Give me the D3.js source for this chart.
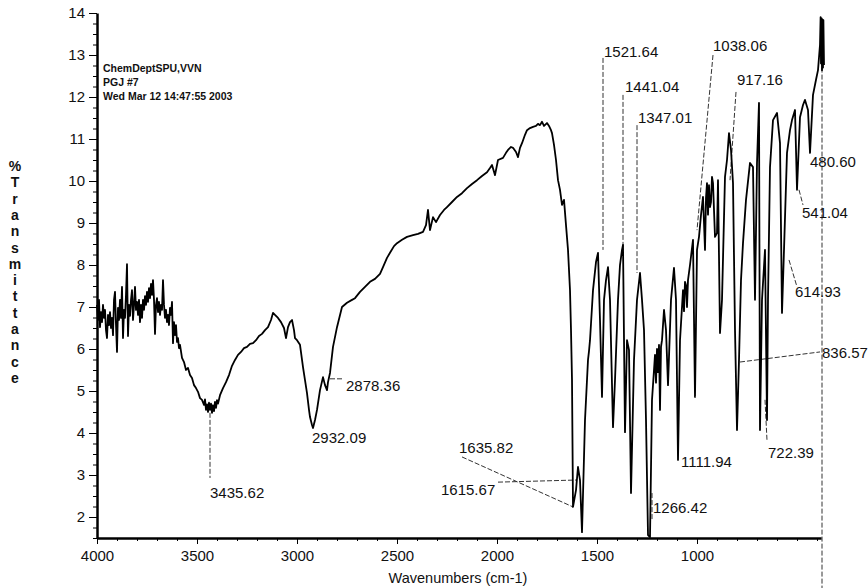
<!DOCTYPE html>
<html>
<head>
<meta charset="utf-8">
<title>IR spectrum</title>
<script src="https://d3js.org/d3.v7.min.js"></script>
<style>
body { margin: 0; background: #fff; }
text { font-family: "Liberation Sans", Arial, sans-serif; fill: #111; }
</style>
</head>
<body>
<svg id="chart" width="868" height="588"></svg>
<script>
// spectrum: [wavenumber cm-1, %T]
var spectrum = [
 [4000,7.05],[3995,6.69],[3990,7.17],[3985,6.52],[3980,6.88],[3975,6.64],[3970,7.05],[3965,6.74],[3960,6.93],[3955,6.45],
 [3950,6.26],[3945,6.81],[3940,6.57],[3935,6.88],[3930,6.50],[3925,6.74],[3920,6.33],[3915,7.17],[3910,7.36],[3905,6.57],
 [3900,5.93],[3895,6.98],[3890,6.69],[3885,7.17],[3880,6.74],[3875,7.48],[3870,6.26],[3865,6.93],[3860,6.74],[3855,7.29],
 [3850,8.02],[3845,6.31],[3840,7.05],[3835,6.79],[3830,7.17],[3825,7.40],[3820,6.69],[3815,7.05],[3810,7.48],[3805,6.93],
 [3800,7.12],[3795,6.81],[3790,7.17],[3785,6.64],[3780,7.05],[3775,6.74],[3770,7.17],[3765,6.93],[3760,7.26],[3755,7.05],
 [3750,7.36],[3745,7.12],[3740,7.45],[3735,7.21],[3730,7.55],[3725,7.29],[3720,7.64],[3715,7.17],[3710,6.36],[3705,7.05],
 [3700,7.21],[3695,6.88],[3690,7.12],[3685,6.81],[3680,7.05],[3675,6.93],[3670,7.64],[3665,7.05],[3660,6.74],[3655,6.93],
 [3650,6.64],[3645,6.81],[3640,6.57],[3635,6.98],[3630,6.81],[3625,7.12],[3620,6.14],[3615,6.64],[3610,6.33],[3605,6.57],
 [3600,6.17],[3595,6.26],[3590,6.02],[3585,6.10],
 [3575,5.79],[3565,5.69],[3555,5.50],[3545,5.55],[3535,5.38],[3525,5.31],[3515,5.14],[3505,5.07],[3495,4.98],[3485,4.83],
 [3475,4.79],[3465,4.67],[3460,4.80],[3455,4.55],[3450,4.68],[3445,4.50],[3440,4.72],[3435,4.55],[3430,4.70],[3425,4.48],
 [3420,4.66],[3415,4.52],[3410,4.74],[3405,4.60],[3400,4.78],[3395,4.70],[3385,4.90],
 [3370,5.07],[3355,5.21],[3340,5.38],[3325,5.60],[3310,5.74],[3295,5.86],[3280,5.93],[3265,6.02],[3250,6.05],[3235,6.12],
 [3220,6.14],[3205,6.21],[3190,6.31],[3175,6.36],[3160,6.45],[3145,6.52],[3130,6.69],[3120,6.86],[3110,6.81],[3095,6.74],
 [3080,6.64],[3065,6.50],[3055,6.26],[3045,6.52],[3035,6.64],[3025,6.69],[3015,6.45],[3010,6.26],[3000,6.21],[2985,6.10],
 [2970,5.57],[2960,5.26],[2950,4.95],[2940,4.55],[2935,4.38],[2925,4.19],[2920,4.12],[2910,4.31],[2900,4.55],[2885,5.02],
 [2870,5.33],[2860,5.14],[2850,5.02],[2845,5.21],[2835,5.43],[2820,6.05],[2800,6.52],[2775,7.00],[2750,7.10],[2725,7.17],
 [2710,7.21],[2685,7.36],[2660,7.48],[2635,7.60],[2610,7.67],[2585,7.79],[2570,7.95],[2550,8.17],[2535,8.29],[2515,8.45],
 [2500,8.52],[2475,8.60],[2450,8.67],[2420,8.71],[2395,8.74],[2370,8.79],[2355,8.95],[2345,9.31],[2335,8.83],[2320,9.14],
 [2305,9.02],[2285,9.19],[2265,9.31],[2250,9.38],[2225,9.50],[2200,9.62],[2175,9.71],[2150,9.83],[2125,9.93],[2100,10.02],
 [2075,10.12],[2050,10.21],[2035,10.31],[2025,10.38],[2010,10.14],[1995,10.50],[1970,10.55],[1955,10.67],[1945,10.74],[1930,10.81],
 [1920,10.79],[1905,10.69],[1895,10.57],[1885,10.79],[1875,10.90],[1860,11.10],[1850,11.21],[1835,11.26],[1820,11.29],[1805,11.31],
 [1795,11.36],[1785,11.33],[1775,11.41],[1765,11.31],[1750,11.38],[1740,11.31],[1730,11.21],[1725,11.14],[1715,10.86],[1705,10.50],
 [1695,10.02],[1685,9.79],[1675,9.43],[1665,9.55],[1655,8.95],[1645,8.36],[1635,7.40],[1630,6.45],[1625,5.26],
 [1620,2.24],[1605,2.64],[1595,3.19],[1585,2.88],[1575,1.64],[1560,4.31],[1545,5.74],[1540,5.95],[1535,6.21],[1530,6.60],
 [1520,7.40],[1505,8.07],[1495,8.29],[1485,6.69],[1475,4.86],[1465,7.17],[1455,7.64],[1445,7.95],[1435,7.17],[1420,4.14],
 [1410,5.26],[1395,7.17],[1385,8.00],[1375,8.36],[1370,8.48],[1360,4.02],[1350,6.21],[1340,5.98],[1330,2.57],[1315,5.74],
 [1300,7.17],[1285,7.81],[1275,7.17],[1265,6.45],[1255,4.31],[1245,1.57],[1235,1.52],[1225,4.79],[1215,5.50],[1210,5.86],
 [1205,5.20],[1200,6.00],[1195,5.45],[1190,6.10],[1185,4.55],[1180,6.05],[1175,6.21],[1165,6.93],[1155,6.45],[1145,5.14],
 [1130,7.17],[1115,7.93],[1105,7.17],[1095,3.36],[1085,6.21],[1070,7.40],[1065,6.90],[1060,7.60],[1055,7.52],[1050,7.00],
 [1045,7.64],[1035,8.00],[1020,8.60],[1010,4.86],[1000,8.36],[990,8.67],[980,9.19],[970,9.62],[965,9.00],[960,8.36],
 [955,9.60],[950,9.95],[945,9.20],[940,9.90],[935,9.38],[930,9.50],[925,10.10],[920,9.95],[910,8.67],[900,8.76],
 [895,10.02],[885,6.38],[875,7.17],[860,10.10],[850,10.50],[840,11.14],
 [830,10.74],[820,9.95],[810,6.45],[800,4.07],[790,5.74],[780,7.64],[770,8.52],[755,9.55],[735,10.43],[720,10.33],
 [710,7.17],[700,10.43],[690,11.86],[685,4.07],[675,7.17],[660,8.36],[650,4.31],[645,7.17],[635,10.33],[620,11.45],
 [600,11.62],[585,10.90],[575,6.86],[565,8.36],[550,10.67],[535,11.21],[525,11.45],[510,11.69],[500,9.79],[485,11.52],
 [470,11.81],[460,11.93],[445,11.69],[435,10.67],[420,12.05],[405,12.41],[395,12.64],[385,13.24],[382,13.90],[380,12.80],
 [378,13.88],[375,12.64],[373,13.85],[370,12.70],[368,13.83],[365,12.76]
];

var xTicks = [4000, 3500, 3000, 2500, 2000, 1500, 1000];
var yTicks = [2, 3, 4, 5, 6, 7, 8, 9, 10, 11, 12, 13, 14];

var peakLabels = ["3435.62","2932.09","2878.36","1635.82","1615.67","1266.42","1111.94","722.39",
                  "836.57","614.93","541.04","480.60","917.16","1038.06","1347.01","1441.04","1521.64"];
var peakTextWn = [3435, 2925, 2755, 2190, 2280, 1220, 1080, 645, 375, 510, 475, 435, 800, 920, 1295, 1360, 1465];
var peakTextT  = [2.45, 3.76, 5.00, 3.52, 2.52, 2.10, 3.19, 3.41, 5.79, 7.24, 9.12, 10.33, 12.29, 13.10, 11.38, 12.12, 12.95];

// leader lines [wn1, T1, wn2, T2]
var leaders = [
 [3435,4.48,3435,2.93],[2835,5.29,2765,5.29],[2175,3.43,1620,2.24],[1995,2.83,1605,2.88],
 [1225,2.57,1225,1.93],[660,4.79,650,3.83],[785,5.69,385,5.93],[540,8.12,500,7.48],
 [490,9.79,470,9.43],[805,12.12,835,10.02],[920,13.00,1000,8.83],[1300,11.33,1300,7.81],
 [1370,12.05,1370,8.36],[1470,12.93,1470,8.36],[375,12.7,375,0.31]
];

var header = ["ChemDeptSPU,VVN", "PGJ #7", "Wed Mar 12 14:47:55 2003"];
var yTitle = "%Transmittance";
var xTitle = "Wavenumbers (cm-1)";

var svg = d3.select("#chart");
var x = d3.scaleLinear().domain([4000, 380]).range([97, 821]);
var y = d3.scaleLinear().domain([1.5, 14]).range([538, 13]);

// leaders first so the curve sits on top
svg.append("g").selectAll("line").data(leaders).join("line")
  .attr("x1", d => x(d[0])).attr("y1", d => y(d[1]))
  .attr("x2", d => x(d[2])).attr("y2", d => y(d[3]))
  .attr("stroke", "#333").attr("stroke-width", 1)
  .attr("stroke-dasharray", "5,2");

var line = d3.line().x(d => x(d[0])).y(d => y(d[1]));
svg.append("path").datum(spectrum)
  .attr("d", line)
  .attr("fill", "none")
  .attr("stroke", "#000")
  .attr("stroke-width", 1.8)
  .attr("stroke-linejoin", "round");

// y axis
var yMinor = d3.range(1.5, 14.01, 0.25);
svg.append("g").attr("transform", "translate(97,0)")
  .call(d3.axisLeft(y).tickValues(yMinor).tickSize(4).tickFormat("").tickSizeOuter(0))
  .call(g => g.select(".domain").remove());
var gy = svg.append("g").attr("transform", "translate(97,0)")
  .call(d3.axisLeft(y).tickValues(yTicks).tickSize(8).tickPadding(4).tickSizeOuter(0));
gy.select(".domain").attr("stroke-width", 2.5);
gy.selectAll("text").style("font-size", "15px").attr("fill", "#111");

// x axis
svg.append("g").attr("transform", "translate(0,538)")
  .call(d3.axisBottom(x).tickValues(d3.range(3900, 380, -100)).tickSize(3).tickFormat("").tickSizeOuter(0))
  .call(g => g.select(".domain").remove());
var gx = svg.append("g").attr("transform", "translate(0,538)")
  .call(d3.axisBottom(x).tickValues(xTicks).tickSize(6).tickPadding(6).tickFormat(d3.format("d")).tickSizeOuter(0));
gx.select(".domain").attr("stroke-width", 2.5);
gx.selectAll("text").style("font-size", "15px").attr("fill", "#111");

// peak labels
svg.append("g").selectAll("text").data(peakLabels).join("text")
  .attr("x", (d, i) => x(peakTextWn[i]))
  .attr("y", (d, i) => y(peakTextT[i]))
  .style("font-size", "15px")
  .text(d => d);

// header block
svg.append("g").selectAll("text").data(header).join("text")
  .attr("x", 103).attr("y", (d, i) => 72 + i * 14)
  .style("font-size", "10.5px").style("font-weight", "bold")
  .text(d => d);

// axis titles
svg.append("text").attr("x", 458).attr("y", 583)
  .attr("text-anchor", "middle").style("font-size", "14.5px")
  .text(xTitle);
svg.append("g").selectAll("text").data(yTitle.split("")).join("text")
  .attr("x", 15).attr("y", (d, i) => 171 + i * 16.3)
  .attr("text-anchor", "middle").style("font-size", "14px").style("font-weight", "bold")
  .text(d => d);
</script>
</body>
</html>
